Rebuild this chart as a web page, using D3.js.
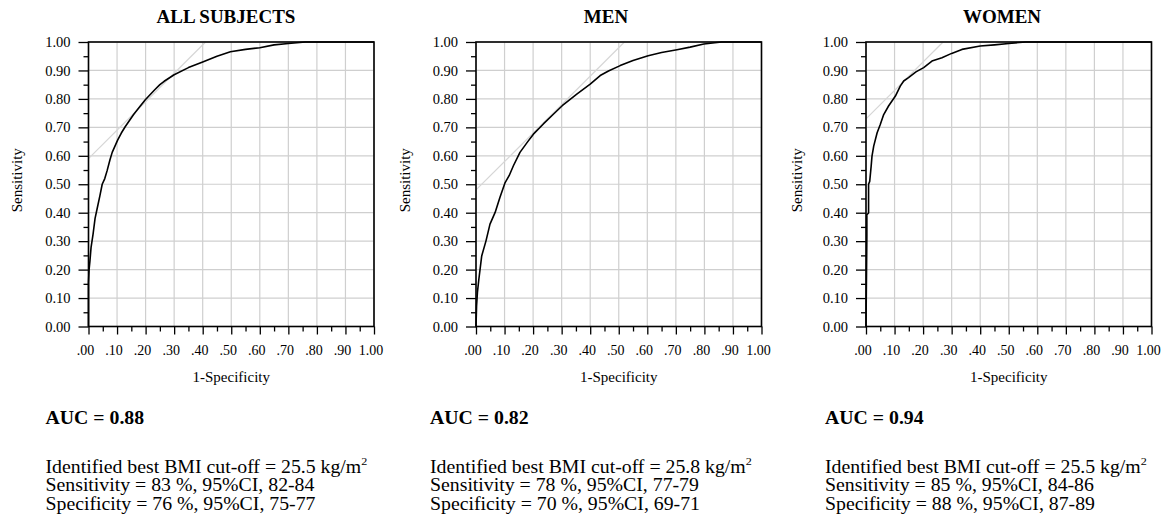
<!DOCTYPE html>
<html>
<head>
<meta charset="utf-8">
<script src="https://cdn.jsdelivr.net/npm/d3@7"></script>
<style>
  body { margin: 0; background: #fff; }
  svg text { font-family: "Liberation Serif", "Times New Roman", serif; fill: #000; }
</style>
</head>
<body>
<svg id="chart" width="1163" height="519"></svg>
<script>
// ---- data ----
var panelTitles = ["ALL SUBJECTS", "MEN", "WOMEN"];
var aucValues = [0.88, 0.82, 0.94];
var bmiCutoffs = [25.5, 25.8, 25.5];
var sensValues = [83, 78, 85];
var sensCI = ["82-84", "77-79", "84-86"];
var specValues = [76, 70, 88];
var specCI = ["75-77", "69-71", "87-89"];

var majorTicks = [0, 0.1, 0.2, 0.3, 0.4, 0.5, 0.6, 0.7, 0.8, 0.9, 1.0];
var minorTicks = [0.05, 0.15, 0.25, 0.35, 0.45, 0.55, 0.65, 0.75, 0.85, 0.95];
var xTickLabels = [".00", ".10", ".20", ".30", ".40", ".50", ".60", ".70", ".80", ".90", "1.00"];
var yTickLabels = ["0.00", "0.10", "0.20", "0.30", "0.40", "0.50", "0.60", "0.70", "0.80", "0.90", "1.00"];

// ROC curves: 1-specificity / sensitivity
var fprAll = [0, 0, 0.002, 0.005, 0.009, 0.016, 0.023, 0.030, 0.040, 0.048, 0.057, 0.065, 0.075, 0.083, 0.102, 0.115, 0.129, 0.158, 0.180, 0.199, 0.232, 0.250, 0.265, 0.300, 0.350, 0.400, 0.450, 0.497, 0.550, 0.600, 0.650, 0.700, 0.760, 1.0];
var tprAll = [0, 0.155, 0.200, 0.230, 0.278, 0.325, 0.380, 0.413, 0.460, 0.500, 0.520, 0.547, 0.585, 0.612, 0.655, 0.680, 0.703, 0.745, 0.773, 0.797, 0.832, 0.850, 0.862, 0.885, 0.910, 0.930, 0.950, 0.966, 0.974, 0.980, 0.990, 0.995, 1.0, 1.0];

var fprMen = [0, 0.002, 0.005, 0.010, 0.020, 0.035, 0.049, 0.067, 0.084, 0.102, 0.116, 0.131, 0.154, 0.180, 0.201, 0.236, 0.270, 0.302, 0.353, 0.400, 0.435, 0.464, 0.505, 0.550, 0.603, 0.650, 0.704, 0.750, 0.798, 0.860, 1.0];
var tprMen = [0, 0.072, 0.120, 0.166, 0.248, 0.301, 0.360, 0.401, 0.454, 0.506, 0.530, 0.565, 0.612, 0.648, 0.676, 0.712, 0.745, 0.776, 0.817, 0.852, 0.882, 0.898, 0.917, 0.935, 0.952, 0.963, 0.973, 0.982, 0.993, 1.0, 1.0];

var fprWomen = [0, 0.003, 0.003, 0.009, 0.009, 0.013, 0.018, 0.021, 0.027, 0.039, 0.050, 0.062, 0.079, 0.103, 0.120, 0.132, 0.149, 0.175, 0.202, 0.231, 0.266, 0.300, 0.336, 0.400, 0.450, 0.500, 0.560, 1.0];
var tprWomen = [0, 0.317, 0.393, 0.399, 0.500, 0.510, 0.563, 0.599, 0.634, 0.681, 0.710, 0.745, 0.775, 0.810, 0.845, 0.863, 0.875, 0.895, 0.910, 0.933, 0.945, 0.960, 0.974, 0.986, 0.990, 0.995, 1.0, 1.0];

var curvesFpr = [fprAll, fprMen, fprWomen];
var curvesTpr = [tprAll, tprMen, tprWomen];

// ---- layout ----
var serif = "'Liberation Serif', 'Times New Roman', serif";
var plotLeft = [88.5, 476, 866];
var plotW = 285.5;
var plotTop = 42;
var plotH = 284.5;
var titleX = [226, 606, 1002];
var textX = [45.5, 430, 825];
var ylabX = [22, 410, 802];

var svg = d3.select("#chart");

panelTitles.forEach(function(title, i){
  var g = svg.append("g")
    .attr("transform", "translate(" + plotLeft[i] + "," + plotTop + ")");

  var x = d3.scaleLinear().domain([0, 1]).range([0, plotW]);
  var y = d3.scaleLinear().domain([0, 1]).range([plotH, 0]);

  // grid
  g.selectAll("line.vgrid").data(majorTicks).enter().append("line")
    .attr("x1", function(d){ return x(d); })
    .attr("x2", function(d){ return x(d); })
    .attr("y1", 0).attr("y2", plotH)
    .style("stroke", "#cfcfcf").style("stroke-width", 1.2);
  g.selectAll("line.hgrid").data(majorTicks).enter().append("line")
    .attr("y1", function(d){ return y(d); })
    .attr("y2", function(d){ return y(d); })
    .attr("x1", 0).attr("x2", plotW)
    .style("stroke", "#cfcfcf").style("stroke-width", 1.2);

  // youden tangent line
  var j = (sensValues[i] + specValues[i]) / 100 - 1;
  g.append("line")
    .attr("x1", x(0)).attr("y1", y(j))
    .attr("x2", x(1 - j)).attr("y2", y(1))
    .style("stroke", "#d6d6d6").style("stroke-width", 1.2);

  // roc curve
  var pts = d3.zip(curvesFpr[i], curvesTpr[i]);
  g.append("path")
    .datum(pts)
    .attr("d", d3.line()
      .x(function(d){ return x(d[0]); })
      .y(function(d){ return y(d[1]); }))
    .style("fill", "none")
    .style("stroke", "#000")
    .style("stroke-width", 1.6)
    .style("stroke-linejoin", "round");

  // frame
  g.append("rect")
    .attr("width", plotW).attr("height", plotH)
    .style("fill", "none").style("stroke", "#000").style("stroke-width", 1.6);

  // axes
  var xAx = g.append("g")
    .attr("transform", "translate(0," + plotH + ")")
    .call(d3.axisBottom(x).tickValues(majorTicks).tickSize(8).tickPadding(11)
      .tickFormat(function(d, k){ return xTickLabels[k]; }));
  g.append("g")
    .attr("transform", "translate(0," + plotH + ")")
    .call(d3.axisBottom(x).tickValues(minorTicks).tickSize(5).tickFormat(""));
  g.append("g")
    .call(d3.axisLeft(y).tickValues(majorTicks).tickSize(10).tickPadding(8)
      .tickFormat(function(d, k){ return yTickLabels[k]; }));
  g.append("g")
    .call(d3.axisLeft(y).tickValues(minorTicks).tickSize(5).tickFormat(""));

  g.selectAll(".domain").remove();
  g.selectAll("g").attr("font-family", serif).attr("font-size", 14.5);
  g.selectAll(".tick line").style("stroke", "#000").style("stroke-width", 1.3);
  g.selectAll(".tick text")
    .attr("font-family", serif)
    .style("font-family", serif)
    .style("font-size", "14.5px");
  xAx.selectAll(".tick text").attr("dx", -3.5).style("font-size", "14px");

  // axis titles
  svg.append("text")
    .attr("x", plotLeft[i] + plotW / 2)
    .attr("y", 381.5)
    .attr("text-anchor", "middle")
    .style("font-size", "15px")
    .text("1-Specificity");
  svg.append("text")
    .attr("transform", "translate(" + ylabX[i] + "," + (plotTop + plotH / 2 - 4) + ") rotate(-90)")
    .attr("text-anchor", "middle")
    .style("font-size", "15px")
    .text("Sensitivity");

  // panel title
  svg.append("text")
    .attr("x", titleX[i]).attr("y", 23)
    .attr("text-anchor", "middle")
    .style("font-size", "19px")
    .style("font-weight", "bold")
    .text(title);

  // stats text (slightly wide face, as in the source figure)
  var stats = svg.append("g")
    .attr("transform", "translate(" + textX[i] + ",0) scale(1.1,1)");
  stats.append("text")
    .attr("y", 424)
    .style("font-size", "18px").style("font-weight", "bold")
    .text("AUC = " + aucValues[i].toFixed(2));
  var t = stats.append("text")
    .attr("y", 473)
    .style("font-size", "18px");
  t.append("tspan").text("Identified best BMI cut-off = " + bmiCutoffs[i].toFixed(1) + " kg/m");
  t.append("tspan").attr("dy", -8).style("font-size", "11px").text("2");
  stats.append("text")
    .attr("y", 491.5)
    .style("font-size", "18px")
    .text("Sensitivity = " + sensValues[i] + " %, 95%CI, " + sensCI[i]);
  stats.append("text")
    .attr("y", 510)
    .style("font-size", "18px")
    .text("Specificity = " + specValues[i] + " %, 95%CI, " + specCI[i]);
});
</script>
</body>
</html>
